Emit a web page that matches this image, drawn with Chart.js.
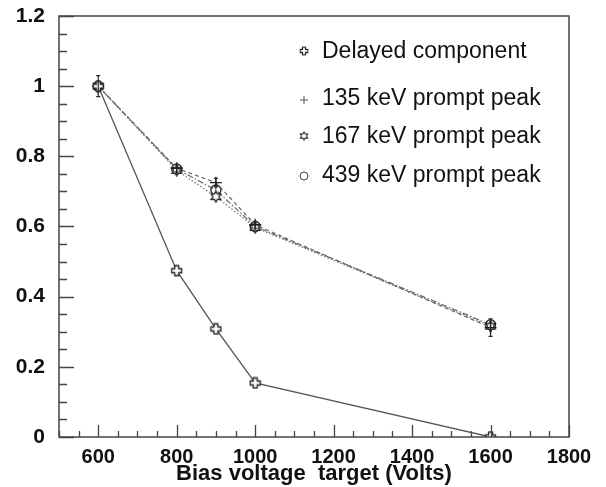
<!DOCTYPE html>
<html>
<head>
<meta charset="utf-8">
<script src="https://cdn.jsdelivr.net/npm/chart.js@4.4.1/dist/chart.umd.min.js"></script>
<style>
  body { margin: 0; background: #fff; }
  canvas { display: block; }
</style>
</head>
<body>
<canvas id="biasChart" width="606" height="487"></canvas>
<script>
// Bias voltage (Volts) at which each point was measured
const voltages = [600, 800, 900, 1000, 1600];

// Relative yield for each component
const delayedComponent = [1.0, 0.474, 0.308, 0.154, 0.0];
const prompt135 = [1.0, 0.766, 0.725, 0.605, 0.312];
const prompt167 = [1.0, 0.760, 0.685, 0.597, 0.316];
const prompt439 = [1.0, 0.764, 0.704, 0.600, 0.320];

// Error bars (only visible ones)
const prompt135Err = [0.03, 0.01, 0.012, 0.01, 0.025];

const seriesNames = ['Delayed component', '135 keV prompt peak', '167 keV prompt peak', '439 keV prompt peak'];

// Axis ticks
const xTickValues = [600, 800, 1000, 1200, 1400, 1600, 1800];
const yTickValues = [0, 0.2, 0.4, 0.6, 0.8, 1, 1.2];

const ink = '#222';
const lineGray = '#555';

// Small canvases used as point styles
function makeMarker(size, draw) {
  const c = document.createElement('canvas');
  c.width = size; c.height = size;
  const g = c.getContext('2d');
  g.strokeStyle = ink;
  g.fillStyle = '#fff';
  g.lineWidth = 1.3;
  draw(g, size);
  return c;
}

// hollow (outlined) plus
const hollowCross = makeMarker(13, (g, s) => {
  const a = 2, b = 4, m = s / 2;
  g.beginPath();
  g.moveTo(m - a, m - b - 1); g.lineTo(m + a, m - b - 1); g.lineTo(m + a, m - a);
  g.lineTo(m + b + 1, m - a); g.lineTo(m + b + 1, m + a); g.lineTo(m + a, m + a);
  g.lineTo(m + a, m + b + 1); g.lineTo(m - a, m + b + 1); g.lineTo(m - a, m + a);
  g.lineTo(m - b - 1, m + a); g.lineTo(m - b - 1, m - a); g.lineTo(m - a, m - a);
  g.closePath();
  g.fill(); g.stroke();
});

// six pointed star outline
const openStar = makeMarker(13, (g, s) => {
  const m = s / 2, R = 5.5, r = 3;
  g.beginPath();
  for (let i = 0; i < 12; i++) {
    const ang = -Math.PI / 2 + i * Math.PI / 6;
    const rad = i % 2 === 0 ? R : r;
    const px = m + rad * Math.cos(ang), py = m + rad * Math.sin(ang);
    if (i === 0) g.moveTo(px, py); else g.lineTo(px, py);
  }
  g.closePath();
  g.fill(); g.stroke();
});

function toPoints(ys) {
  return voltages.map((v, i) => ({ x: v, y: ys[i] }));
}

// Draws frame, inner ticks, error bars and legend
const decorPlugin = {
  id: 'decor',
  afterDatasetsDraw(chart) {
    const ctx = chart.ctx;
    const area = chart.chartArea;
    const xs = chart.scales.x, ys = chart.scales.y;

    ctx.save();
    // error bars
    ctx.strokeStyle = ink;
    ctx.lineWidth = 1.2;
    chart.data.datasets.forEach(ds => {
      if (!ds.errors) return;
      ds.data.forEach((p, i) => {
        const e = ds.errors[i];
        const px = xs.getPixelForValue(p.x);
        const y1 = ys.getPixelForValue(p.y - e), y2 = ys.getPixelForValue(p.y + e);
        ctx.beginPath();
        ctx.moveTo(px, y1); ctx.lineTo(px, y2);
        ctx.moveTo(px - 2, y1); ctx.lineTo(px + 2, y1);
        ctx.moveTo(px - 2, y2); ctx.lineTo(px + 2, y2);
        ctx.stroke();
      });
    });

    // frame
    ctx.strokeStyle = '#444';
    ctx.lineWidth = 1.5;
    ctx.strokeRect(area.left, area.top, area.right - area.left, area.bottom - area.top);

    // inner ticks
    ctx.lineWidth = 1.3;
    ctx.beginPath();
    for (let v = 500; v <= 1800; v += 50) {
      const px = Math.round(xs.getPixelForValue(v)) + 0.5;
      const len = v % 200 === 0 ? 12 : 6;
      ctx.moveTo(px, area.bottom); ctx.lineTo(px, area.bottom - len);
    }
    for (let k = 0; k <= 24; k++) {
      const py = Math.round(ys.getPixelForValue(k * 0.05)) + 0.5;
      const len = k % 4 === 0 ? 15 : 8;
      ctx.moveTo(area.left, py); ctx.lineTo(area.left + len, py);
    }
    ctx.stroke();

    // legend inside the plot
    const rowsY = [51, 98, 136, 175];
    ctx.font = '23px "Liberation Sans", Arial, sans-serif';
    ctx.fillStyle = '#111';
    ctx.textBaseline = 'middle';
    ctx.textAlign = 'left';
    chart.data.datasets.forEach((ds, i) => {
      const y = rowsY[i];
      const sx = 304;
      const style = ds.pointStyle;
      if (style instanceof HTMLCanvasElement) {
        ctx.drawImage(style, sx - 5, y - 5, 10, 10);
      } else if (style === 'cross') {
        ctx.strokeStyle = '#555';
        ctx.lineWidth = 1;
        ctx.beginPath();
        ctx.moveTo(sx - 4, y + 2); ctx.lineTo(sx + 4, y + 2);
        ctx.moveTo(sx, y - 2); ctx.lineTo(sx, y + 6);
        ctx.stroke();
      } else {
        ctx.strokeStyle = '#444';
        ctx.lineWidth = 1;
        ctx.beginPath();
        ctx.arc(sx, y + 1, 4, 0, Math.PI * 2);
        ctx.stroke();
      }
      ctx.fillText(ds.label, 322, y + 1);
    });
    ctx.restore();
  }
};

const ctx = document.getElementById('biasChart').getContext('2d');
new Chart(ctx, {
  type: 'line',
  data: {
    datasets: [
      {
        label: seriesNames[0],
        data: toPoints(delayedComponent),
        borderColor: lineGray,
        borderWidth: 1.3,
        pointStyle: hollowCross,
        pointRadius: 6
      },
      {
        label: seriesNames[1],
        data: toPoints(prompt135),
        errors: prompt135Err,
        borderColor: '#666',
        borderWidth: 1.2,
        borderDash: [4, 3],
        pointStyle: 'cross',
        pointRadius: 6,
        pointBorderColor: ink,
        pointBorderWidth: 1.3
      },
      {
        label: seriesNames[2],
        data: toPoints(prompt167),
        borderColor: '#777',
        borderWidth: 1.2,
        borderDash: [1.5, 2],
        pointStyle: openStar,
        pointRadius: 6
      },
      {
        label: seriesNames[3],
        data: toPoints(prompt439),
        borderColor: '#666',
        borderWidth: 1.2,
        borderDash: [6, 2, 1.5, 2],
        pointStyle: 'circle',
        pointRadius: 5,
        pointBackgroundColor: 'rgba(255,255,255,0)',
        pointBorderColor: ink,
        pointBorderWidth: 1.3
      }
    ]
  },
  options: {
    responsive: false,
    animation: false,
    layout: { padding: { top: 16, right: 37, left: 0, bottom: 0 } },
    plugins: {
      legend: { display: false },
      tooltip: { enabled: false }
    },
    scales: {
      x: {
        type: 'linear',
        min: 500,
        max: 1800,
        afterFit: scale => {
          scale.height = 50;
          scale.paddingLeft = 0;
          scale.paddingRight = 0;
        },
        afterBuildTicks: scale => { scale.ticks = xTickValues.map(v => ({ value: v })); },
        grid: { display: false, drawTicks: false },
        border: { display: false },
        ticks: {
          padding: 8,
          color: '#111',
          font: { family: '"Liberation Sans", Arial, sans-serif', size: 20, weight: 'bold' },
          maxRotation: 0,
          autoSkip: false,
          callback: v => String(v)
        },
        title: {
          display: true,
          text: 'Bias voltage  target (Volts)',
          color: '#111',
          padding: { top: 0, bottom: 0 },
          font: { family: '"Liberation Sans", Arial, sans-serif', size: 22, weight: 'bold' }
        }
      },
      y: {
        min: 0,
        max: 1.2,
        afterFit: scale => {
          scale.width = 59;
          scale.paddingTop = 0;
          scale.paddingBottom = 0;
        },
        afterBuildTicks: scale => { scale.ticks = yTickValues.map(v => ({ value: v })); },
        grid: { display: false, drawTicks: false },
        border: { display: false },
        ticks: {
          padding: 14,
          color: '#111',
          font: { family: '"Liberation Sans", Arial, sans-serif', size: 21, weight: 'bold' },
          callback: v => String(+v.toFixed(1))
        }
      }
    }
  },
  plugins: [decorPlugin]
});
</script>
</body>
</html>
